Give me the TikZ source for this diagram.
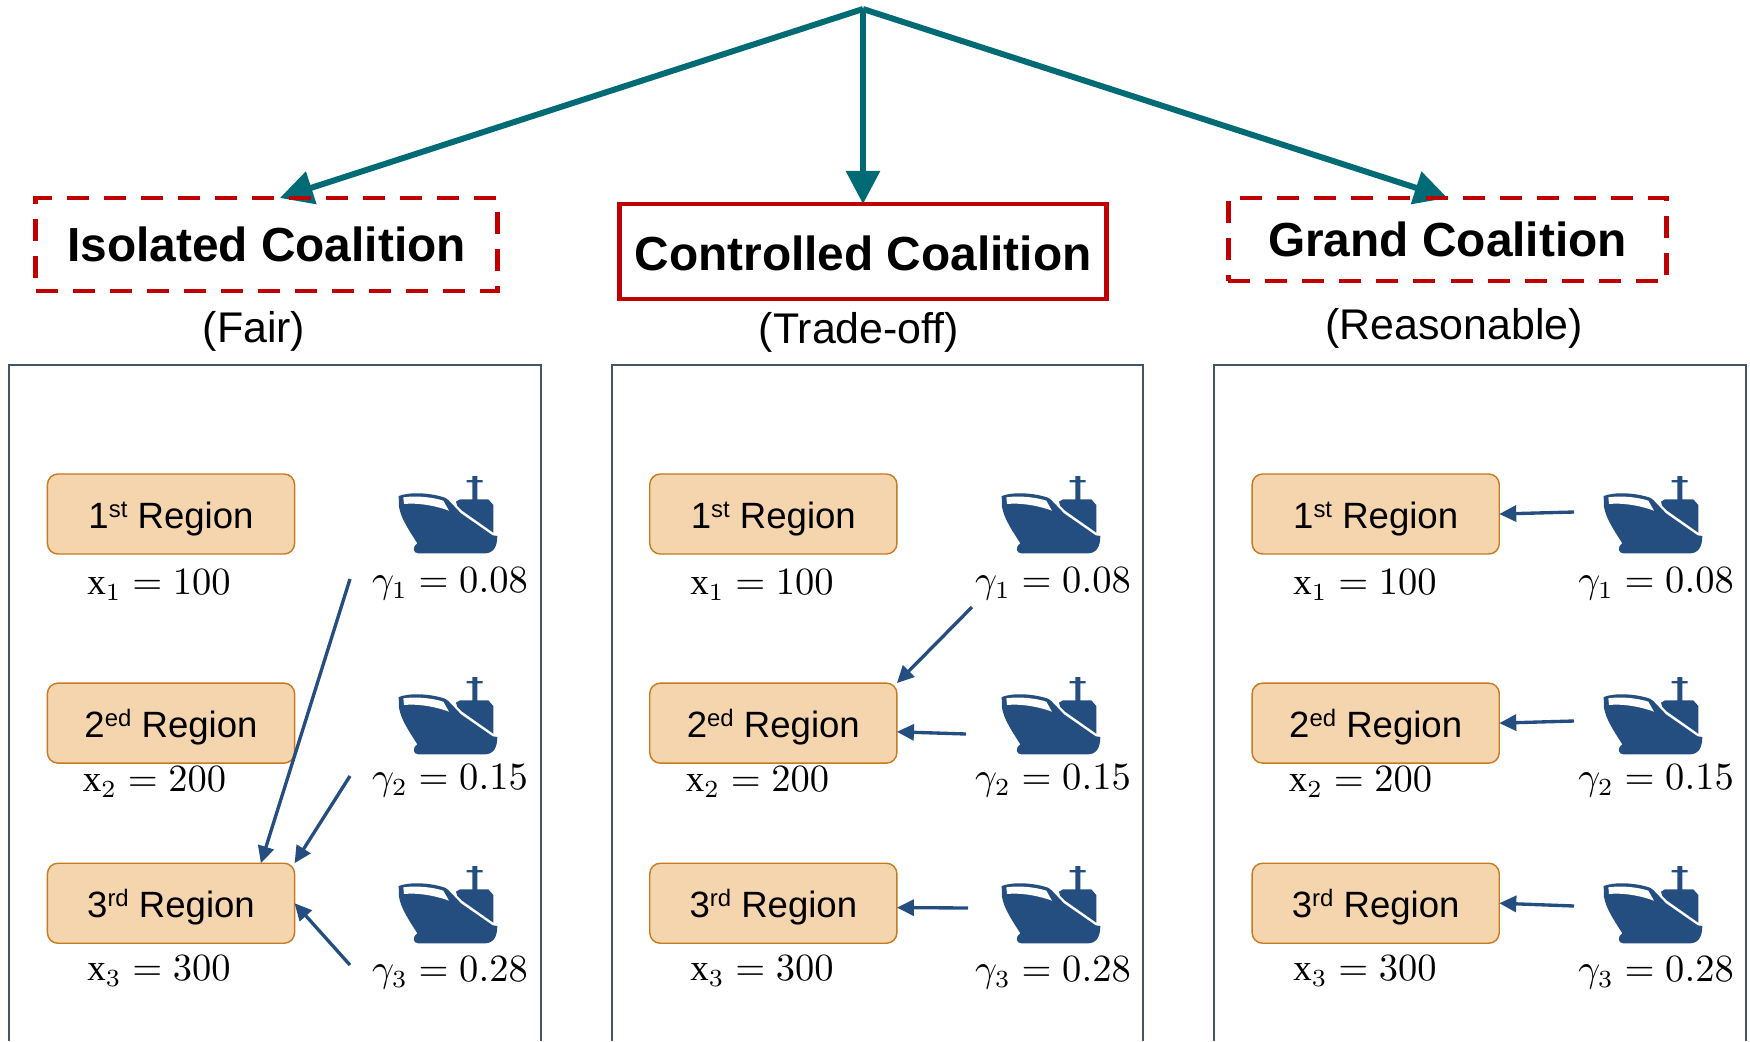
\documentclass[tikz,border=0pt]{standalone}
\usepackage{fontspec}
\setmainfont{Liberation Sans}
\setmathrm{Liberation Serif}
\usepackage{xcolor}
\usepackage{tikz}
\usetikzlibrary{positioning, arrows.meta, backgrounds}
\definecolor{CTteal}{HTML}{006B75}
\definecolor{CTred}{HTML}{C00000}
\definecolor{CTnavy}{HTML}{254E80}
\definecolor{CTslate}{HTML}{44546A}
\definecolor{CTfill}{HTML}{F5D5AE}
\definecolor{CTedge}{HTML}{C87A1E}
\newcommand{\regsup}[1]{\raisebox{0.3em}{\fontsize{6.8}{8}\selectfont #1}}

\begin{document}
\begin{tikzpicture}[
  x=0.01cm, y=-0.01cm,
  font=\fontsize{11}{13}\selectfont,
  coalbox/.style={draw=CTred, line width=1.35pt, outer sep=0pt, inner sep=0pt,
                  font=\fontsize{13.6}{16}\selectfont\bfseries},
  subtitle/.style={font=\fontsize{12.2}{14}\selectfont, inner sep=0pt},
  panel/.style={draw=CTslate, line width=0.7pt},
  regbox/.style={draw=CTedge, line width=0.4pt, rounded corners=3pt, fill=CTfill,
                 minimum width=2.47cm, minimum height=0.8cm, outer sep=0pt, inner sep=0pt,
                 text height=10.2pt, text depth=2.2pt,
                 font=\fontsize{10.4}{13}\selectfont},
  val/.style={inner sep=0pt, font=\fontsize{10.5}{14}\selectfont},
  branch/.style={-{Triangle[length=0.33cm, width=0.33cm]}, CTteal, line width=1.7pt},
  shiparr/.style={-{Triangle[length=0.17cm, width=0.16cm]}, CTnavy, line width=0.95pt},
  ship/.pic={
    \fill[CTnavy] (56,108) .. controls (90,95) and (150,98) .. (195,113) -- (205,120)
      -- (243,160) -- (338,226) -- (352,228)
      .. controls (352,260) and (340,280) .. (315,280) -- (115,280)
      .. controls (100,280) and (95,262) .. (112,250)
      .. controls (90,215) and (62,175) .. (57,140) -- cycle;
    \fill[white] (70,112) .. controls (110,106) and (160,112) .. (190,122) -- (207,152)
      .. controls (160,135) and (110,128) .. (72,132) -- cycle;
    \fill[CTnavy] (340,218) -- (340,135) -- (325,118) -- (292,118) -- (292,67) -- (308,67)
      -- (308,60) -- (292,60) -- (292,48) -- (277,48) -- (277,60) -- (260,60) -- (260,67)
      -- (277,67) -- (277,118) -- (240,118) -- (228,125) -- (232,138) -- (245,151) -- cycle;
  },
]
\useasboundingbox (0,0) rectangle (1750,1041);

% panels
\draw[panel] (9,1041) -- (9,365) -- (541,365) -- (541,1041);
\draw[panel] (612,1041) -- (612,365) -- (1143,365) -- (1143,1041);
\draw[panel] (1214,1041) -- (1214,365) -- (1746,365) -- (1746,1041);

% coalitions
\coordinate (root) at (863,9);
\node[coalbox, dashed, dash pattern=on 0.22cm off 0.15cm, minimum width=4.61cm, minimum height=0.93cm] (isolated) at (266.5,244.5) {Isolated Coalition};
\node[coalbox, text height=11.2pt, minimum width=4.87cm, minimum height=0.95cm] (controlled) at (863,251.5) {Controlled Coalition};
\node[coalbox, dashed, dash pattern=on 0.22cm off 0.15cm, minimum width=4.38cm, minimum height=0.83cm] (grand) at (1447.5,239.5) {Grand Coalition};
\node[subtitle] (fair) at (254,331) {(Fair)};
\node[subtitle] (tradeoff) at (859,332) {(Trade-off)};
\node[subtitle] (reasonable) at (1454,328) {(Reasonable)};

\begin{pgfonlayer}{background}
\draw[branch] (root) -- (isolated.74);
\draw[branch] (root) -- (controlled.north);
\draw[branch] (root) -- (grand.north);
\end{pgfonlayer}

% regions
\node[regbox] (reg1a) at (171,514) {1\regsup{st} Region};
\node[regbox, below=1.29cm of reg1a] (reg2a) {2\regsup{ed} Region};
\node[regbox, below=1cm of reg2a] (reg3a) {3\regsup{rd} Region};
\node[regbox, right=3.55cm of reg1a] (reg1b) {1\regsup{st} Region};
\node[regbox, below=1.29cm of reg1b] (reg2b) {2\regsup{ed} Region};
\node[regbox, below=1cm of reg2b] (reg3b) {3\regsup{rd} Region};
\node[regbox, right=3.55cm of reg1b] (reg1c) {1\regsup{st} Region};
\node[regbox, below=1.29cm of reg1c] (reg2c) {2\regsup{ed} Region};
\node[regbox, below=1cm of reg2c] (reg3c) {3\regsup{rd} Region};

% quantities
\node[val] (x1a) at (159,585) {$\mathrm{x}_1 = 100$};
\node[val] (x2a) at (154.5,782) {$\mathrm{x}_2 = 200$};
\node[val] (x3a) at (159,971) {$\mathrm{x}_3 = 300$};
\node[val] (x1b) at (762,585) {$\mathrm{x}_1 = 100$};
\node[val] (x2b) at (757.5,782) {$\mathrm{x}_2 = 200$};
\node[val] (x3b) at (762,971) {$\mathrm{x}_3 = 300$};
\node[val] (x1c) at (1365,585) {$\mathrm{x}_1 = 100$};
\node[val] (x2c) at (1360.5,782) {$\mathrm{x}_2 = 200$};
\node[val] (x3c) at (1365,971) {$\mathrm{x}_3 = 300$};

\node[val] (g1a) at (450,584) {$\gamma_1 = 0.08$};
\node[val] (g2a) at (450,781) {$\gamma_2 = 0.15$};
\node[val] (g3a) at (450,973) {$\gamma_3 = 0.28$};
\node[val] (g1b) at (1053,584) {$\gamma_1 = 0.08$};
\node[val] (g2b) at (1053,781) {$\gamma_2 = 0.15$};
\node[val] (g3b) at (1053,973) {$\gamma_3 = 0.28$};
\node[val] (g1c) at (1656,584) {$\gamma_1 = 0.08$};
\node[val] (g2c) at (1656,781) {$\gamma_2 = 0.15$};
\node[val] (g3c) at (1656,973) {$\gamma_3 = 0.28$};

% ships
\pic[scale=0.3333] (ship1a) at (380,460) {ship};
\pic[scale=0.3333] (ship2a) at (380,661) {ship};
\pic[scale=0.3333] (ship3a) at (380,850) {ship};
\pic[scale=0.3333] (ship1b) at (983,460) {ship};
\pic[scale=0.3333] (ship2b) at (983,661) {ship};
\pic[scale=0.3333] (ship3b) at (983,850) {ship};
\pic[scale=0.3333] (ship1c) at (1585,460) {ship};
\pic[scale=0.3333] (ship2c) at (1585,661) {ship};
\pic[scale=0.3333] (ship3c) at (1585,850) {ship};

% arrows
\coordinate (from1a) at (350,579);
\coordinate (from2a) at (350,776);
\coordinate (from3a) at (350,965);
\coordinate (from1b) at (972,607);
\coordinate (from2b) at (966,734);
\coordinate (from3b) at (968,908);
\coordinate (from1c) at (1574,512);
\coordinate (from2c) at (1574,721);
\coordinate (from3c) at (1574,906);
\draw[shiparr] (from1a) -- (reg3a.24);
\draw[shiparr] (from2a) -- (reg3a.north east);
\draw[shiparr] (from3a) -- (reg3a.east);
\draw[shiparr] (from1b) -- (reg2b.north east);
\draw[shiparr] (from2b) -- (reg2b.-4.6);
\draw[shiparr] (from3b) -- (reg3b.-2);
\draw[shiparr] (from1c) -- (reg1c.east);
\draw[shiparr] (from2c) -- (reg2c.east);
\draw[shiparr] (from3c) -- (reg3c.east);
\end{tikzpicture}
\end{document}
